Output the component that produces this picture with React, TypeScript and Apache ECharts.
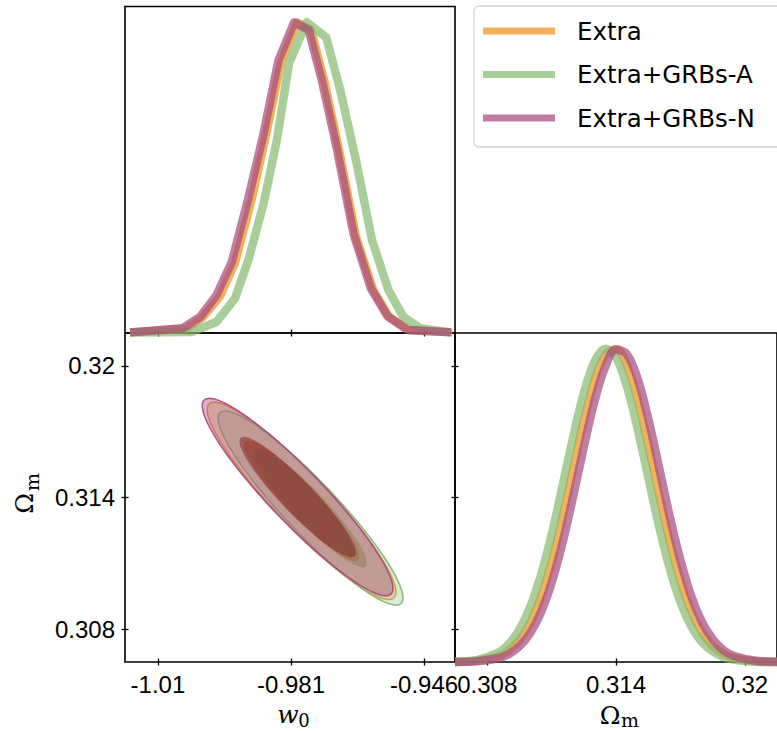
import React, { useEffect, useRef } from "react";
import * as echarts from "echarts";

// ---------- data ----------
const SERIES_NAMES = ["Extra", "Extra+GRBs-A", "Extra+GRBs-N"];

// w0 marginal (1D) curves: [w0, normalised density]
const W0_EXTRA = [[-1.0221,0.002],[-1.0078,0.014],[-1.0035,0.051],[-0.9991,0.119],[-0.9953,0.225],[-0.9911,0.427],[-0.9874,0.636],[-0.9835,0.873],[-0.9794,0.999],[-0.9759,0.975],[-0.9724,0.806],[-0.9686,0.581],[-0.9644,0.311],[-0.9600,0.138],[-0.9559,0.051],[-0.9508,0.010],[-0.9398,0.002]];
const W0_GRBS_A = [[-1.0221,0.002],[-1.0064,0.003],[-1.0000,0.036],[-0.9953,0.111],[-0.9919,0.234],[-0.9880,0.416],[-0.9846,0.620],[-0.9815,0.867],[-0.9770,1.000],[-0.9720,0.951],[-0.9684,0.780],[-0.9644,0.556],[-0.9603,0.299],[-0.9561,0.138],[-0.9523,0.052],[-0.9480,0.015],[-0.9403,0.002]];
const W0_GRBS_N = [[-1.0221,0.002],[-1.0087,0.015],[-1.0042,0.052],[-1.0000,0.122],[-0.9961,0.229],[-0.9919,0.433],[-0.9880,0.641],[-0.9842,0.877],[-0.9802,0.999],[-0.9765,0.975],[-0.9731,0.812],[-0.9692,0.588],[-0.9650,0.318],[-0.9606,0.144],[-0.9564,0.055],[-0.9513,0.010],[-0.9401,0.002]];

// Omega_m marginal (1D) curves
const OM_GRID = [0.3065,0.3075,0.3085,0.3090,0.3095,0.3100,0.3105,0.3110,0.3115,0.3120,0.3125,0.3130,0.3135,0.3140,0.3145,0.3150,0.3155,0.3160,0.3165,0.3170,0.3175,0.3180,0.3185,0.3190,0.3195,0.3205,0.3215];
const OM_EXTRA = [0.000,0.004,0.018,0.037,0.070,0.124,0.206,0.317,0.457,0.613,0.768,0.898,0.980,0.998,0.948,0.841,0.695,0.537,0.386,0.260,0.163,0.095,0.052,0.026,0.013,0.002,0.000];
const OM_GRBS_A = [0.001,0.006,0.029,0.057,0.103,0.175,0.276,0.406,0.559,0.717,0.858,0.959,1.000,0.972,0.882,0.747,0.591,0.435,0.300,0.192,0.115,0.064,0.034,0.016,0.007,0.001,0.000];
const OM_GRBS_N = [0.000,0.002,0.012,0.025,0.050,0.092,0.158,0.253,0.378,0.527,0.686,0.833,0.943,0.997,0.983,0.905,0.777,0.623,0.465,0.325,0.211,0.128,0.073,0.038,0.019,0.004,0.001];

// 2D contour parameters (Extra, Extra+GRBs-A, Extra+GRBs-N)
const C_W0 = [-0.9783, -0.9760, -0.9793];
const C_OM = [0.31385, 0.31352, 0.31402];
const S_W0 = [0.0097, 0.0095, 0.0098];
const S_OM = [0.00181, 0.00178, 0.00181];
const RHO = [-0.925, -0.925, -0.925];
const CHI2_LEVELS = [2.30, 6.18]; // 68%, 95%

// ticks
const W0_TICK_POS = [-1.015, -0.981, -0.947];
const W0_TICK_LABELS = ["-1.01", "-0.981", "-0.946"];
const OM_TICK_POS = [0.308, 0.314, 0.32];
const OM_TICK_LABELS = ["0.308", "0.314", "0.32"];

// ---------- styles ----------
const LINE_COLORS = ["rgba(236,145,22,0.7)", "rgba(132,185,111,0.7)", "rgba(165,71,127,0.7)"];
const OUTER_FILLS = ["rgba(236,145,22,0.3)", "rgba(132,185,111,0.3)", "rgba(165,71,127,0.4)"];
const OUTER_STROKES = ["rgba(232,150,50,0.9)", "rgba(125,180,105,0.9)", "rgba(165,70,130,0.9)"];
const INNER_FILLS = ["rgba(190,90,30,0.5)", "rgba(120,120,70,0.4)", "rgba(130,40,50,0.55)"];

const W0_MIN = -1.0234, W0_MAX = -0.9391;
const OM_MIN = 0.3065, OM_MAX = 0.3215;
const TICK_FONT = "Liberation Sans";

function labelFor(pos: number[], labels: string[]) {
  return (v: number) => {
    const i = pos.findIndex((p) => Math.abs(p - v) < 1e-7);
    return i >= 0 ? labels[i] : "";
  };
}

function tickAxis(gridIndex: number, min: number, max: number, pos: number[], labels: string[], position: string, inside: boolean, showLabel: boolean) {
  return {
    type: "value",
    gridIndex, min, max, position,
    axisLine: { show: false, onZero: false },
    splitLine: { show: false },
    axisTick: { show: true, inside, length: 3.5, customValues: pos, lineStyle: { color: "#000", width: 1.3 } },
    axisLabel: {
      show: showLabel, customValues: pos, formatter: labelFor(pos, labels),
      margin: 10, color: "#000", fontSize: 24, fontFamily: TICK_FONT,
    },
  };
}

function hiddenDensityAxis(gridIndex: number) {
  return { type: "value", gridIndex, min: 0, max: 1.05, show: false };
}

function ellipseSeries(idx: number, level: number, fill: string, stroke: string, lw: number) {
  return {
    type: "custom",
    name: SERIES_NAMES[idx],
    xAxisIndex: 2,
    yAxisIndex: 1,
    dimensions: ["w0", "om", "sw", "so", "rho", "chi2"],
    encode: { x: "w0", y: "om" },
    data: [[C_W0[idx], C_OM[idx], S_W0[idx], S_OM[idx], RHO[idx], CHI2_LEVELS[level]]],
    renderItem: (params: any, api: any) => {
      const cx = api.value(0), cy = api.value(1), sx = api.value(2), sy = api.value(3), r = api.value(4);
      const k = Math.sqrt(api.value(5));
      const pts: number[][] = [];
      const n = 160;
      for (let i = 0; i < n; i++) {
        const t = (2 * Math.PI * i) / n;
        const x = cx + k * sx * Math.cos(t);
        const y = cy + k * sy * (r * Math.cos(t) + Math.sqrt(1 - r * r) * Math.sin(t));
        pts.push(api.coord([x, y]));
      }
      return { type: "polygon", shape: { points: pts }, style: { fill, stroke, lineWidth: lw } };
    },
  };
}

function w0Line(idx: number, data: number[][]) {
  return {
    type: "line", name: SERIES_NAMES[idx], xAxisIndex: 0, yAxisIndex: 0,
    data, showSymbol: false, symbol: "none", clip: false,
    lineStyle: { color: LINE_COLORS[idx], width: 8.5, join: "round" },
    itemStyle: { color: LINE_COLORS[idx] },
  };
}

function omLine(idx: number, vals: number[]) {
  return {
    type: "line", name: SERIES_NAMES[idx], xAxisIndex: 4, yAxisIndex: 5,
    data: OM_GRID.map((x, i) => [x, vals[i]]), showSymbol: false, symbol: "none", clip: false,
    smooth: 0.35,
    lineStyle: { color: LINE_COLORS[idx], width: 8.5, join: "round" },
    itemStyle: { color: LINE_COLORS[idx] },
  };
}

const gridBox = { show: true, borderColor: "#000", borderWidth: 1.6, backgroundColor: "rgba(0,0,0,0)", containLabel: false };

const option: any = {
  animation: false,
  backgroundColor: "#fff",
  grid: [
    { ...gridBox, left: 125, top: 6.5, width: 330, height: 326.5 },
    { ...gridBox, left: 125, top: 333, width: 330, height: 329 },
    { ...gridBox, left: 455, top: 333, width: 330, height: 329 },
  ],
  xAxis: [
    tickAxis(0, W0_MIN, W0_MAX, W0_TICK_POS, W0_TICK_LABELS, "bottom", false, false),
    tickAxis(0, W0_MIN, W0_MAX, W0_TICK_POS, W0_TICK_LABELS, "bottom", true, false),
    tickAxis(1, W0_MIN, W0_MAX, W0_TICK_POS, W0_TICK_LABELS, "bottom", false, true),
    tickAxis(1, W0_MIN, W0_MAX, W0_TICK_POS, W0_TICK_LABELS, "bottom", true, false),
    tickAxis(2, OM_MIN, OM_MAX, OM_TICK_POS, OM_TICK_LABELS, "bottom", false, true),
    tickAxis(2, OM_MIN, OM_MAX, OM_TICK_POS, OM_TICK_LABELS, "bottom", true, false),
  ],
  yAxis: [
    hiddenDensityAxis(0),
    tickAxis(1, OM_MIN, OM_MAX, OM_TICK_POS, OM_TICK_LABELS, "left", false, true),
    tickAxis(1, OM_MIN, OM_MAX, OM_TICK_POS, OM_TICK_LABELS, "left", true, false),
    tickAxis(1, OM_MIN, OM_MAX, OM_TICK_POS, OM_TICK_LABELS, "right", false, false),
    tickAxis(1, OM_MIN, OM_MAX, OM_TICK_POS, OM_TICK_LABELS, "right", true, false),
    hiddenDensityAxis(2),
  ],
  legend: {
    orient: "vertical", left: 474, top: 6,
    padding: [12, 60, 16, 9],
    itemWidth: 72, itemHeight: 7, itemGap: 17.5,
    icon: "rect", selectedMode: false,
    backgroundColor: "rgba(255,255,255,0.85)", borderColor: "#d4d4d4", borderWidth: 1.3, borderRadius: 5,
    textStyle: { fontFamily: "DejaVu Sans", fontSize: 24.5, color: "#000", lineHeight: 26, padding: [0, 0, 0, 17] },
    itemStyle: { borderWidth: 0 },
    data: SERIES_NAMES.map((n, i) => ({ name: n, itemStyle: { color: LINE_COLORS[i], borderWidth: 0 } })),
  },
  series: [
    w0Line(0, W0_EXTRA), w0Line(1, W0_GRBS_A), w0Line(2, W0_GRBS_N),
    ellipseSeries(0, 1, OUTER_FILLS[0], OUTER_STROKES[0], 1.5),
    ellipseSeries(1, 1, OUTER_FILLS[1], OUTER_STROKES[1], 1.5),
    ellipseSeries(2, 1, OUTER_FILLS[2], OUTER_STROKES[2], 1.5),
    ellipseSeries(0, 0, INNER_FILLS[0], "rgba(0,0,0,0)", 0),
    ellipseSeries(1, 0, INNER_FILLS[1], "rgba(0,0,0,0)", 0),
    ellipseSeries(2, 0, INNER_FILLS[2], "rgba(0,0,0,0)", 0),
    omLine(0, OM_EXTRA), omLine(1, OM_GRBS_A), omLine(2, OM_GRBS_N),
  ],
  graphic: [
    { type: "text", x: 288, y: 714.5, style: { text: "w", fontSize: 25, fontStyle: "italic", fontFamily: "DejaVu Serif", fill: "#000", align: "center", verticalAlign: "middle" } },
    { type: "text", x: 304, y: 720.5, style: { text: "0", fontSize: 18, fontFamily: "DejaVu Serif", fill: "#000", align: "center", verticalAlign: "middle" } },
    { type: "text", x: 610, y: 715, style: { text: "Ω", fontSize: 25, fontFamily: "DejaVu Serif", fill: "#000", align: "center", verticalAlign: "middle" } },
    { type: "text", x: 630, y: 719.5, style: { text: "m", fontSize: 19, fontFamily: "DejaVu Serif", fill: "#000", align: "center", verticalAlign: "middle" } },
    { type: "text", x: 24, y: 503.5, rotation: Math.PI / 2, style: { text: "Ω", fontSize: 25, fontFamily: "DejaVu Serif", fill: "#000", align: "center", verticalAlign: "middle" } },
    { type: "text", x: 32, y: 482, rotation: Math.PI / 2, style: { text: "m", fontSize: 19, fontFamily: "DejaVu Serif", fill: "#000", align: "center", verticalAlign: "middle" } },
  ],
};

export default function App() {
  const ref = useRef<HTMLDivElement>(null);
  useEffect(() => {
    document.body.style.margin = "0";
    const chart = echarts.init(ref.current as HTMLDivElement, undefined, { renderer: "svg" });
    chart.setOption(option);
    return () => chart.dispose();
  }, []);
  return <div ref={ref} style={{ position: "absolute", left: 0, top: 0, width: 777, height: 731, background: "#fff" }} />;
}
